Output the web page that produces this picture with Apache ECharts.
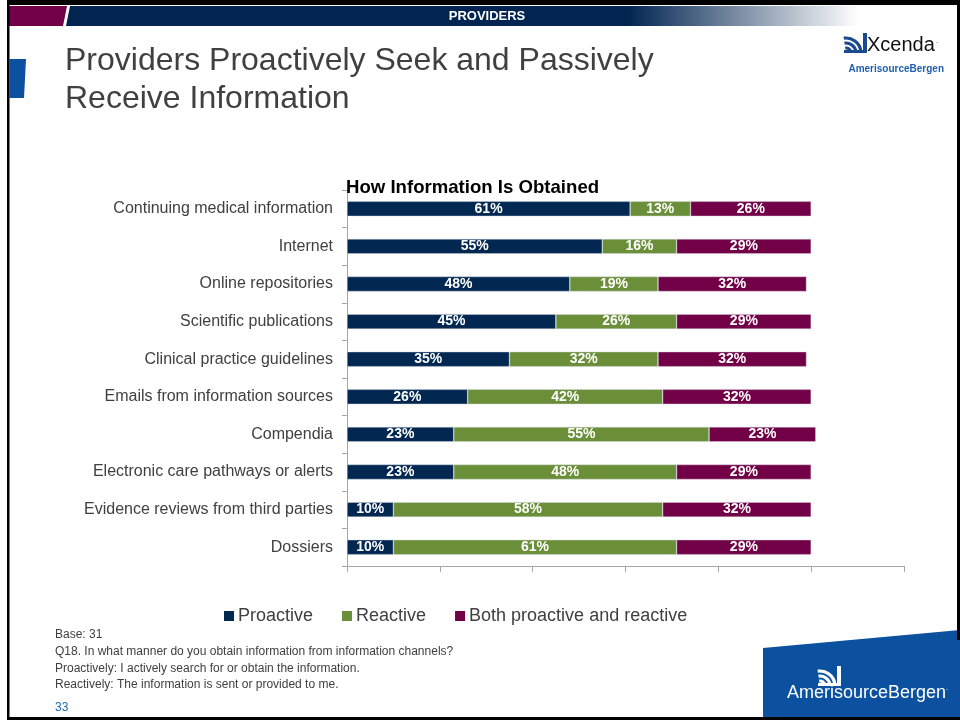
<!DOCTYPE html>
<html>
<head>
<meta charset="utf-8">
<script src="https://cdn.jsdelivr.net/npm/echarts@6/dist/echarts.min.js"></script>
<style>
  html, body { margin: 0; padding: 0; background: #fff; }
  #chart { width: 960px; height: 723px; }
</style>
</head>
<body>
<div id="chart"></div>
<script>
// Information channels, top to bottom
const categories = [
  'Continuing medical information',
  'Internet',
  'Online repositories',
  'Scientific publications',
  'Clinical practice guidelines',
  'Emails from information sources',
  'Compendia',
  'Electronic care pathways or alerts',
  'Evidence reviews from third parties',
  'Dossiers'
];

// Share of respondents (%) per manner of obtaining information
const proactive = [61, 55, 48, 45, 35, 26, 23, 23, 10, 10];
const reactive  = [13, 16, 19, 26, 32, 42, 55, 48, 58, 61];
const both      = [26, 29, 32, 29, 32, 32, 23, 29, 32, 29];

const seriesNames = ['Proactive', 'Reactive', 'Both proactive and reactive'];
const seriesColors = ['#022852', '#6A8F38', '#720046'];

const xTicks = [0, 20, 40, 60, 80, 100, 120];

const noteLines = [
  'Base: 31',
  'Q18. In what manner do you obtain information from information channels?',
  'Proactively: I actively search for or obtain the information.',
  'Reactively: The information is sent or provided to me.'
];
const pageNumber = '33';

const FONT = '"Liberation Sans", Arial, Helvetica, sans-serif';
const TEXT_GREY = '#404040';
const AXIS_GREY = '#a6a6a6';
const BRAND_BLUE = '#0B51A0';

const chart = echarts.init(document.getElementById('chart'), null, { renderer: 'canvas' });

function makeSeries(name, data, color) {
  return {
    name: name,
    type: 'bar',
    stack: 'total',
    barWidth: 15,
    data: data,
    itemStyle: { color: color, borderColor: 'rgba(220,220,230,0.7)', borderWidth: 0.6 },
    label: {
      show: true,
      position: 'inside',
      formatter: '{c}%',
      color: '#ffffff',
      fontFamily: FONT,
      fontWeight: 'bold',
      fontSize: 14
    },
    emphasis: { disabled: true }
  };
}

// Small arc-based brand mark
function brandMark(x, y, s, color) {
  const children = [];
  const radii = [5, 10, 15];
  radii.forEach(function (r) {
    children.push({
      type: 'arc',
      shape: { cx: x, cy: y + 22 * s, r: r * s, startAngle: -Math.PI / 2 - 0.15, endAngle: 0, clockwise: true },
      style: { stroke: color, lineWidth: 3.2 * s, fill: null }
    });
  });
  children.push({
    type: 'rect',
    shape: { x: x + 17 * s, y: y + 2 * s, width: 4 * s, height: 20 * s },
    style: { fill: color }
  });
  children.push({
    type: 'rect',
    shape: { x: x - 2 * s, y: y + 19 * s, width: 23 * s, height: 3 * s },
    style: { fill: color }
  });
  return { type: 'group', children: children };
}

const graphics = [
  // slide frame
  { type: 'rect', shape: { x: 7, y: 0, width: 953, height: 5 }, style: { fill: '#000' }, z: 10 },
  { type: 'rect', shape: { x: 7, y: 0, width: 2.5, height: 720 }, style: { fill: '#000' }, z: 10 },
  { type: 'rect', shape: { x: 957, y: 0, width: 3, height: 640 }, style: { fill: '#000' }, z: 10 },
  { type: 'rect', shape: { x: 7, y: 717, width: 953, height: 3 }, style: { fill: '#000' }, z: 10 },

  // header band
  { type: 'polygon', shape: { points: [[9, 6], [67, 6], [63, 26], [9, 26]] }, style: { fill: '#720046' } },
  {
    type: 'polygon',
    shape: { points: [[70, 6], [957, 6], [957, 26], [66, 26]] },
    style: {
      fill: new echarts.graphic.LinearGradient(0, 0, 1, 0, [
        { offset: 0, color: '#012450' },
        { offset: 0.63, color: '#012450' },
        { offset: 0.89, color: '#ffffff' },
        { offset: 1, color: '#ffffff' }
      ])
    }
  },
  {
    type: 'text',
    style: { x: 487, y: 16, text: 'PROVIDERS', fill: '#ffffff', font: 'bold 13px ' + FONT, align: 'center', verticalAlign: 'middle' }
  },

  // side tab
  { type: 'polygon', shape: { points: [[9.5, 59], [26, 59], [24, 98], [9.5, 98]] }, style: { fill: BRAND_BLUE } },

  // slide title
  {
    type: 'text',
    style: { x: 65, y: 61, text: 'Providers Proactively Seek and Passively', fill: TEXT_GREY, font: '32px ' + FONT, verticalAlign: 'middle' }
  },
  {
    type: 'text',
    style: { x: 65, y: 99, text: 'Receive Information', fill: TEXT_GREY, font: '32px ' + FONT, verticalAlign: 'middle' }
  },

  // top-right logo
  brandMark(846, 31, 1, '#1B4A8E'),
  {
    type: 'text',
    style: { x: 867, y: 45, text: 'Xcenda', fill: '#111111', font: '20px ' + FONT, verticalAlign: 'middle' }
  },
  {
    type: 'text',
    style: { x: 936, y: 41, text: '.', fill: '#111111', font: '8px ' + FONT, verticalAlign: 'middle' }
  },
  {
    type: 'text',
    style: { x: 944, y: 69, text: 'AmerisourceBergen', fill: '#1F5FAF', font: 'bold 10px ' + FONT, align: 'right', verticalAlign: 'middle' }
  },

  // notes
  ...noteLines.map(function (t, i) {
    return {
      type: 'text',
      style: { x: 55, y: 635 + i * 16.6, text: t, fill: TEXT_GREY, font: '12px ' + FONT, verticalAlign: 'middle' }
    };
  }),
  {
    type: 'text',
    style: { x: 55, y: 708, text: pageNumber, fill: '#1F67B1', font: '12px ' + FONT, verticalAlign: 'middle' }
  },

  // bottom-right brand block
  { type: 'polygon', shape: { points: [[763, 648], [960, 630], [960, 717], [763, 717]] }, style: { fill: BRAND_BLUE } },
  brandMark(820, 664, 1, '#ffffff'),
  {
    type: 'text',
    style: { x: 787, y: 693, text: 'AmerisourceBergen', fill: '#ffffff', font: '18px ' + FONT, verticalAlign: 'middle' }
  },
  {
    type: 'text',
    style: { x: 946, y: 688, text: '.', fill: '#ffffff', font: '8px ' + FONT, verticalAlign: 'middle' }
  }
];

const option = {
  animation: false,
  backgroundColor: '#ffffff',
  color: seriesColors,
  title: {
    text: 'How Information Is Obtained',
    left: 346,
    top: 178,
    padding: 0,
    textStyle: { fontFamily: FONT, fontSize: 18.6, fontWeight: 'bold', color: '#000000' }
  },
  legend: {
    data: seriesNames,
    left: 224,
    top: 607,
    padding: 0,
    itemWidth: 10,
    itemHeight: 10,
    itemGap: 29,
    icon: 'rect',
    itemStyle: { borderWidth: 0 },
    textStyle: { fontFamily: FONT, fontSize: 18, color: TEXT_GREY, padding: [0, 0, 0, -1] },
    selectedMode: false
  },
  grid: { left: 347, right: 56, top: 190, bottom: 157, containLabel: false },
  xAxis: {
    type: 'value',
    min: xTicks[0],
    max: xTicks[xTicks.length - 1],
    interval: xTicks[1] - xTicks[0],
    axisLabel: { show: false },
    splitLine: { show: false },
    axisLine: { show: true, lineStyle: { color: AXIS_GREY, width: 1 } },
    axisTick: { show: true, length: 6, lineStyle: { color: AXIS_GREY } }
  },
  yAxis: {
    type: 'category',
    inverse: true,
    data: categories,
    axisLine: { show: true, lineStyle: { color: AXIS_GREY, width: 1 } },
    axisTick: { show: true, length: 5, lineStyle: { color: AXIS_GREY } },
    axisLabel: { margin: 14, fontFamily: FONT, fontSize: 16, color: TEXT_GREY }
  },
  series: [
    makeSeries(seriesNames[0], proactive, seriesColors[0]),
    makeSeries(seriesNames[1], reactive, seriesColors[1]),
    makeSeries(seriesNames[2], both, seriesColors[2])
  ],
  graphic: graphics
};

chart.setOption(option);
</script>
</body>
</html>
